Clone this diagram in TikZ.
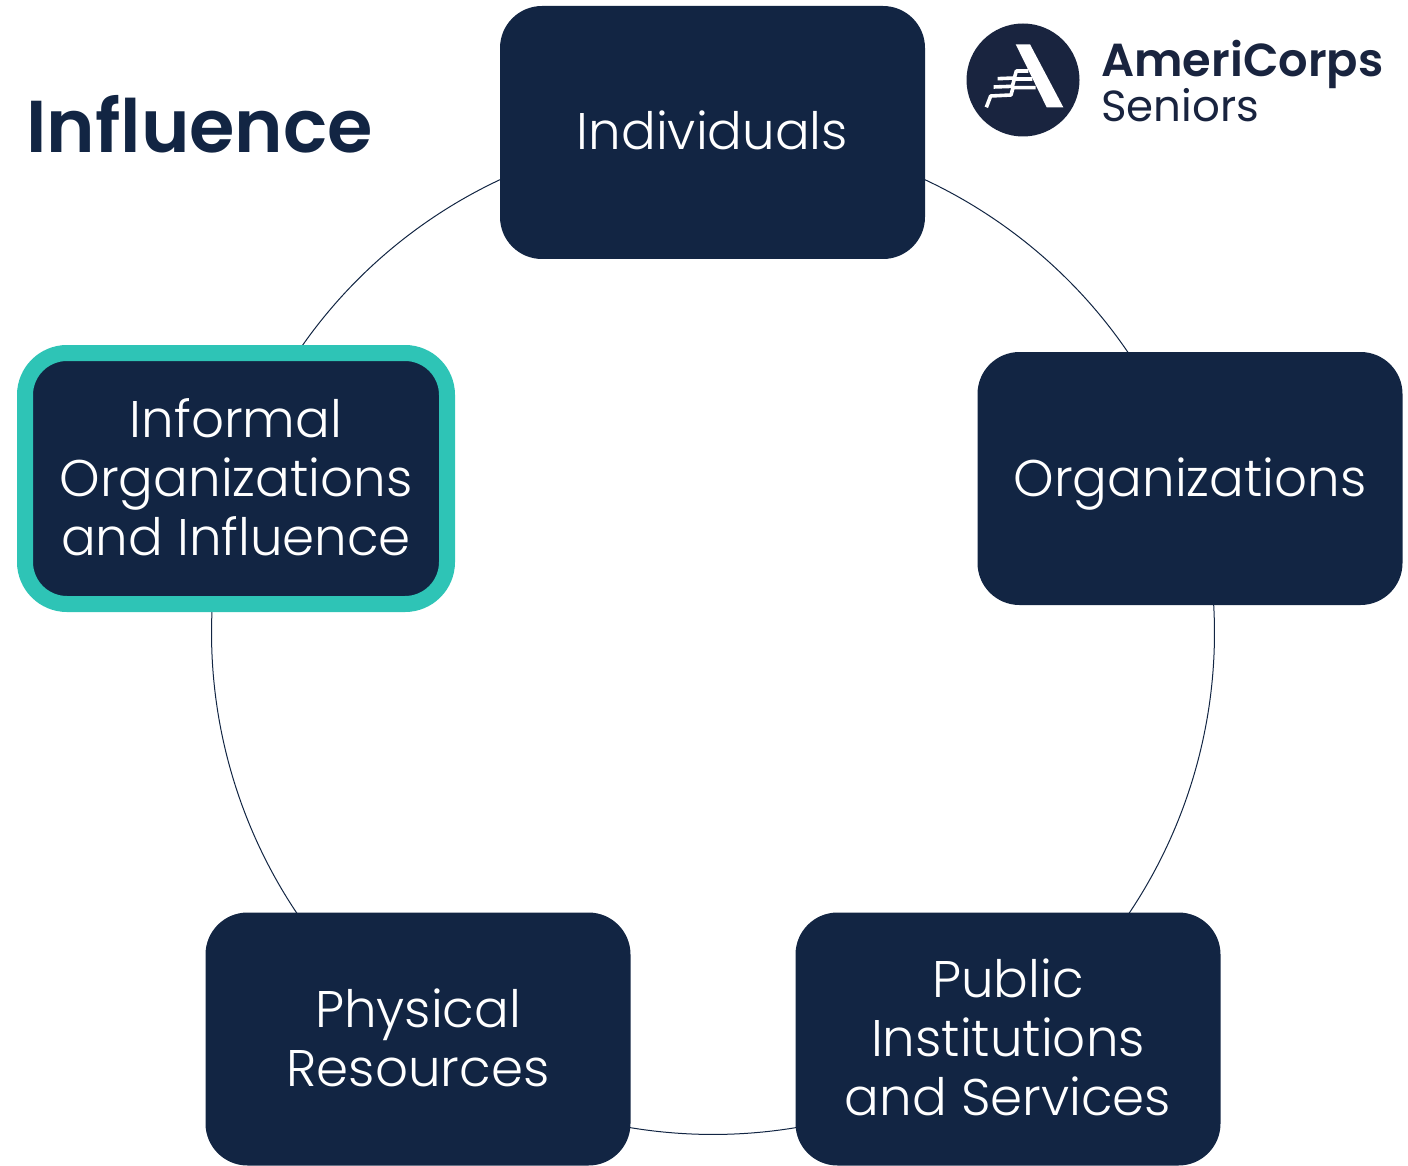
\documentclass[tikz,border=0pt]{standalone}
\usepackage{fontspec}
\setmainfont{Poppins}[UprightFont=* Light,BoldFont=* SemiBold]
\newfontfamily\logofont{Poppins}[UprightFont=*,BoldFont=* SemiBold]
\usetikzlibrary{backgrounds}
\definecolor{navy}{HTML}{122543}
\definecolor{teal2}{HTML}{2EC4B6}
\definecolor{logonavy}{HTML}{19243F}
\newcommand{\lnst}[1]{\rule[-6pt]{0pt}{47pt}\smash{#1}}
\tikzset{
  box/.style={fill=navy,rounded corners=42pt,minimum width=425pt,minimum height=253pt,inner sep=0pt,
    text=white,align=center,font=\fontsize{51.5}{59}\selectfont},
  link/.style={draw=navy,line width=1pt,bend left=36,looseness=0.941},
  flagline/.style={draw=white,line width=3.6pt,line join=round},
}
\begin{document}
\begin{tikzpicture}[x=1pt,y=-1pt]
\useasboundingbox (0,0) rectangle (1408,1166);
\node[box] (ind) at (712.5,132.5) {\lnst{Individuals}};
\node[box] (org) at (1190,478.5) {\lnst{Organizations}};
\node[box] (pub) at (1008,1039) {\lnst{Public}\\\lnst{Institutions}\\\lnst{and Services}};
\node[box] (phy) at (418,1039) {\lnst{Physical}\\\lnst{Resources}};
\node[box,draw=teal2,line width=16pt,minimum width=422pt,minimum height=251pt] (inf) at (236,478.5) {\lnst{Informal}\\\lnst{Organizations}\\\lnst{and Influence}};
\begin{scope}[on background layer]
\draw[link] (ind.center) to (org.center);
\draw[link] (org.center) to (pub.center);
\draw[link] (pub.center) to (phy.center);
\draw[link] (phy.center) to (inf.center);
\draw[link] (inf.center) to (ind.center);
\end{scope}
\node[anchor=base west,inner sep=0pt,text=navy,font=\fontsize{73.5}{74}\selectfont\bfseries] (title) at (26,153) {Influence};
\node[circle,fill=logonavy,minimum size=113pt,inner sep=0pt] (logo) at (1023,80) {};
\fill[white] (1015.7,44.3) -- (1030,44.3) -- (1063.3,107.3) -- (1046.7,107.3) -- cycle;
\begin{scope}[shift={(975,35)},x=0.3333pt,y=-0.3333pt]
\draw[flagline] (68,131) -- (118,129) -- (124,108) -- (160,108);
\draw[flagline] (56,156) -- (112,154) -- (118,132) -- (172,132);
\draw[flagline] (34,217) -- (47,183) -- (108,180) -- (114,158) -- (182,158);
\end{scope}
\node[anchor=base west,inner sep=0pt,text=logonavy,font=\logofont\fontsize{46.3}{46}\selectfont\bfseries] (ac) at (1101,77) {AmeriCorps};
\node[anchor=base west,inner sep=0pt,text=logonavy,font=\logofont\fontsize{43.5}{44}\selectfont] (sen) at (1101,122) {Seniors};
\end{tikzpicture}
\end{document}
